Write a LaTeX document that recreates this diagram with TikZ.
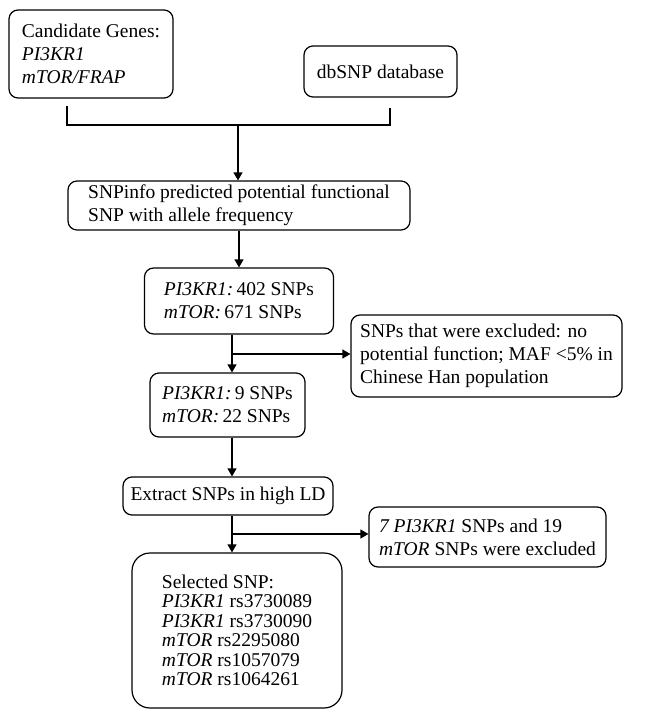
\documentclass[tikz,border=0pt]{standalone}
\usepackage{fontspec}
\setmainfont{Liberation Serif}
\usetikzlibrary{arrows.meta}

\begin{document}
\begin{tikzpicture}[x=1pt, y=-1pt, line width=1.2pt,
  box/.style={draw, rounded corners=9pt, align=left, inner sep=0pt,
    font=\fontsize{19.5}{23}\selectfont},
  arr/.style={-{Triangle[length=8pt,width=9pt]}}]
  \useasboundingbox (0,0) rectangle (646,712);
  % sources
  \node[box, minimum width=164pt, minimum height=88pt] (cand) at (91,54)
    {Candidate Genes:\\\textit{PI3KR1}\\\textit{mTOR/FRAP}};
  \node[box, minimum width=153pt, minimum height=51pt] (db) at (380.5,71.5)
    {dbSNP database};
  % main column
  \node[box, minimum width=342pt, minimum height=49pt] (info) at (239,205.5)
    {SNPinfo predicted potential functional\\SNP with allele frequency};
  \node[box, minimum width=189pt, minimum height=66pt] (snps) at (239,301)
    {\textit{PI3KR1:}\,402 SNPs\\\textit{mTOR:}\,671 SNPs};
  \node[box, minimum width=155pt, minimum height=64pt] (func) at (227.5,405)
    {\textit{PI3KR1:}\,9 SNPs\\\textit{mTOR:}\,22 SNPs};
  \node[box, minimum width=210pt, minimum height=38pt] (ld) at (228,496)
    {Extract SNPs in high LD};
  \node[box, rounded corners=18pt, minimum width=210pt, minimum height=155pt,
    font=\fontsize{19.5}{19.5}\selectfont] (sel) at (237,630.5)
    {Selected SNP:\\\textit{PI3KR1} rs3730089\\\textit{PI3KR1} rs3730090\\
     \textit{mTOR} rs2295080\\\textit{mTOR} rs1057079\\\textit{mTOR} rs1064261};
  % excluded
  \node[box, minimum width=271pt, minimum height=82pt] (excl1) at (486.5,356)
    {SNPs that were excluded: no\\potential function; MAF \textless5\% in\\Chinese Han population};
  \node[box, minimum width=237pt, minimum height=60pt] (excl2) at (487.5,537)
    {\textit{7 PI3KR1} SNPs and 19\\\textit{mTOR} SNPs were excluded};
  % connectors
  \coordinate (join) at (238,125);
  \coordinate (split1) at (232,354);
  \coordinate (split2) at (232,534);
  \draw ([shift={(-24,7)}]cand.south) |- (join) -| ([shift={(9.5,10)}]db.south);
  \draw[arr] (join) -- (info.north -| join);
  \draw[arr] (info.south) -- (snps.north);
  \draw[arr] (snps.south -| split1) -- (func.north -| split1);
  \draw[arr] (split1) -- (split1 -| excl1.west);
  \draw[arr] (func.south -| split1) -- (ld.north -| split1);
  \draw[arr] (ld.south -| split2) -- (sel.north -| split2);
  \draw[arr] (split2) -- (split2 -| excl2.west);
\end{tikzpicture}
\end{document}
